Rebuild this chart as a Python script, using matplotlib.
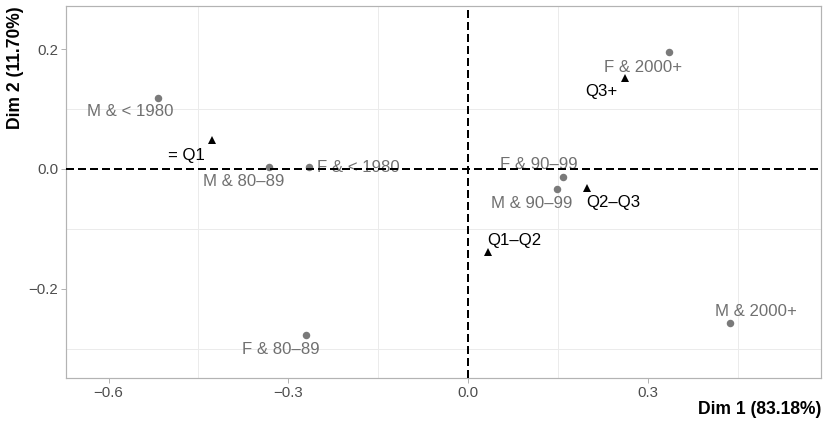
import matplotlib
matplotlib.use("Agg")
import matplotlib.pyplot as plt
from matplotlib.ticker import MultipleLocator

plt.rcParams['font.family'] = ['Liberation Sans', 'DejaVu Sans']

# column categories (sex & cohort) - grey points
col_labels = ['M & < 1980', 'M & 80–89', 'F & < 1980', 'F & 2000+',
              'F & 90–99', 'M & 90–99', 'F & 80–89', 'M & 2000+']
col_x = [-0.518, -0.332, -0.265, 0.336, 0.159, 0.149, -0.270, 0.437]
col_y = [0.119, 0.004, 0.004, 0.196, -0.013, -0.033, -0.277, -0.258]

# row categories (quartiles) - black triangles
row_labels = ['= Q1', 'Q3+', 'Q2–Q3', 'Q1–Q2']
row_x = [-0.427, 0.262, 0.199, 0.033]
row_y = [0.048, 0.151, -0.031, -0.138]

# label offsets in pixels (dpi 72 -> points == pixels)
col_off = [(-27, -14), (-25, -15), (49, -1), (-26, -16),
           (-25, 12), (-26, -15), (-25, -15), (26, 12)]
row_off = [(-26, -15), (-24, -13), (26, -15), (26, 11)]

fig = plt.figure(figsize=(829/72, 427/72), dpi=72)
ax = fig.add_axes([66/829, 1-378/427, 755/829, 372/427])

ax.set_xlim(-0.671, 0.589)
ax.set_ylim(-0.349, 0.272)

ax.xaxis.set_major_locator(MultipleLocator(0.3))
ax.xaxis.set_minor_locator(MultipleLocator(0.15))
ax.yaxis.set_major_locator(MultipleLocator(0.2))
ax.yaxis.set_minor_locator(MultipleLocator(0.1))

# only minor grid lines show in the reference
ax.grid(which='minor', color='#ebebeb', lw=1)
ax.grid(which='major', visible=False)
ax.set_axisbelow(True)

ax.tick_params(which='major', length=5, width=1, color='#b3b3b3',
               labelsize=15, labelcolor='#4d4d4d', pad=3)
ax.tick_params(which='minor', length=0)
fmt = lambda v, p: ('%.1f' % v).replace('-', '\u2212')
ax.xaxis.set_major_formatter(plt.FuncFormatter(fmt))
ax.yaxis.set_major_formatter(plt.FuncFormatter(fmt))

for s in ax.spines.values():
    s.set_color('#b3b3b3')
    s.set_linewidth(1.2)

ax.axhline(0, color='black', lw=2, ls=(0, (4, 2)), zorder=5)
ax.axvline(0, color='black', lw=2, ls=(0, (4, 2)), zorder=5)

ax.plot(col_x, col_y, 'o', color='#7a7a7a', ms=7.5, mew=0, zorder=3)
ax.plot(row_x, row_y, '^', color='black', ms=8, mew=0, zorder=3)

for lab, x, y, off in zip(col_labels, col_x, col_y, col_off):
    ax.annotate(lab, (x, y), xytext=off, textcoords='offset points',
                ha='center', va='center', fontsize=16.7, color='#707070', zorder=4)
for lab, x, y, off in zip(row_labels, row_x, row_y, row_off):
    ax.annotate(lab, (x, y), xytext=off, textcoords='offset points',
                ha='center', va='center', fontsize=16.7, color='black', zorder=4)

fig.text(821/829, 1-410/427, 'Dim 1 (83.18%)', ha='right', va='center',
         fontsize=17.5, fontweight='bold')
fig.text(16/829, 1-6/427, 'Dim 2 (11.70%)', ha='center', va='top',
         rotation=90, fontsize=17.5, fontweight='bold')

fig.savefig('out.png', dpi=72)
